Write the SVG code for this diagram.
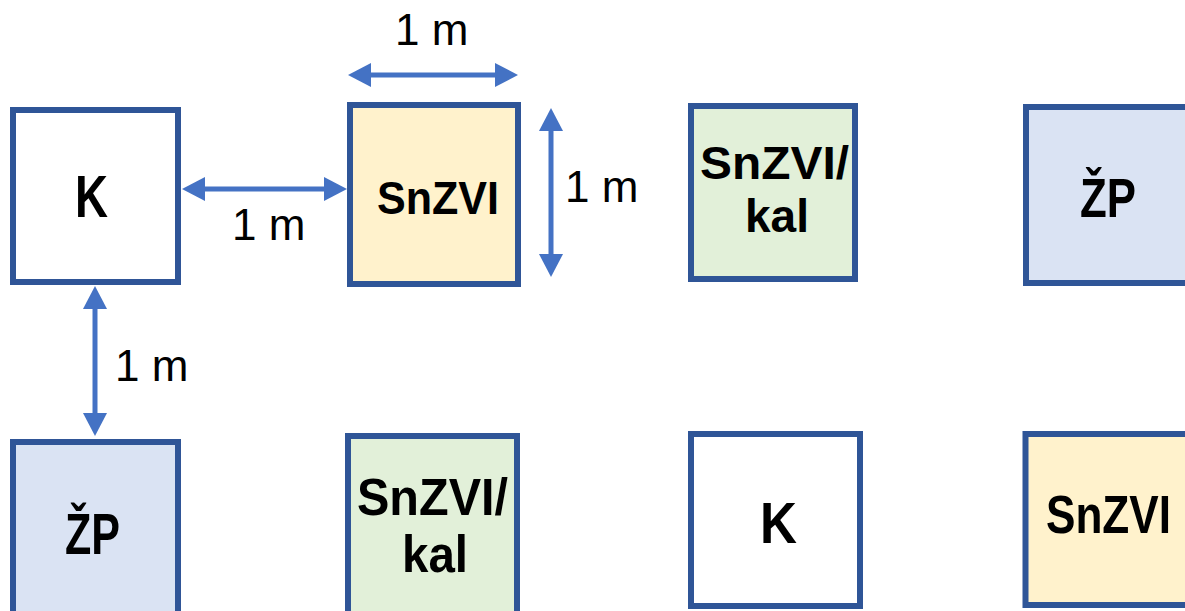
<svg xmlns="http://www.w3.org/2000/svg" width="1185" height="611" viewBox="0 0 1185 611">
<style>
.box{stroke:#2F5597;stroke-width:6}
.w{fill:#FFFFFF}
.y{fill:#FFF2CC}
.g{fill:#E2F0D9}
.b{fill:#DAE3F3}
.lbl{font-family:"Liberation Sans",Arial,sans-serif;font-weight:bold;fill:#000}
.dim{font-family:"Liberation Sans",Arial,sans-serif;font-size:44px;fill:#000}
.arr{stroke:#4472C4;stroke-width:5;fill:none;marker-start:url(#ah);marker-end:url(#ah)}
</style>
<defs>
<marker id="ah" markerUnits="userSpaceOnUse" markerWidth="24" markerHeight="24" refX="3" refY="12" orient="auto-start-reverse">
<path d="M0,0 L23,12 L0,24 Z" fill="#4472C4"/>
</marker>
</defs>
<rect width="1185" height="611" fill="#FFFFFF"/>
<g id="node-K1">
<rect class="box w" x="13" y="110" width="165" height="172"/>
<text class="lbl" x="75" y="217" font-size="60" textLength="33" lengthAdjust="spacingAndGlyphs">K</text>
</g>
<g id="node-SnZVI1">
<rect class="box y" x="350" y="105" width="168" height="179"/>
<text class="lbl" x="377" y="214" font-size="47" textLength="122" lengthAdjust="spacingAndGlyphs">SnZVI</text>
</g>
<g id="node-SnZVIkal1">
<rect class="box g" x="691" y="106" width="164" height="173"/>
<text class="lbl" x="700" y="179" font-size="47" textLength="149" lengthAdjust="spacingAndGlyphs">SnZVI/</text>
<text class="lbl" x="745" y="232" font-size="47" textLength="64" lengthAdjust="spacingAndGlyphs">kal</text>
</g>
<g id="node-ZP1">
<rect class="box b" x="1026" y="107" width="175" height="176"/>
<text class="lbl" x="1080" y="217" font-size="56" textLength="56" lengthAdjust="spacingAndGlyphs">ŽP</text>
</g>
<g id="node-ZP2">
<rect class="box b" x="13" y="442" width="165" height="190"/>
<text class="lbl" x="65" y="554" font-size="57" textLength="55" lengthAdjust="spacingAndGlyphs">ŽP</text>
</g>
<g id="node-SnZVIkal2">
<rect class="box g" x="348" y="436" width="169" height="190"/>
<text class="lbl" x="357" y="515" font-size="52" textLength="151" lengthAdjust="spacingAndGlyphs">SnZVI/</text>
<text class="lbl" x="402" y="572" font-size="52" textLength="66" lengthAdjust="spacingAndGlyphs">kal</text>
</g>
<g id="node-K2">
<rect class="box w" x="691" y="434" width="169" height="172"/>
<text class="lbl" x="760" y="543" font-size="58" textLength="37" lengthAdjust="spacingAndGlyphs">K</text>
</g>
<g id="node-SnZVI2">
<rect class="box y" x="1025.5" y="434" width="175" height="171"/>
<text class="lbl" transform="translate(1046 533) scale(1 1.1)" x="0" y="0" font-size="48" textLength="125" lengthAdjust="spacingAndGlyphs">SnZVI</text>
</g>
<g id="connectors">
<line class="arr" x1="368" y1="75" x2="498" y2="75"/>
<line class="arr" x1="202" y1="189" x2="327" y2="189"/>
<line class="arr" x1="551" y1="128" x2="551" y2="257"/>
<line class="arr" x1="95" y1="306" x2="95" y2="416"/>
</g>
<g id="dimension-labels">
<text class="dim" x="395" y="45">1 m</text>
<text class="dim" x="232" y="240">1 m</text>
<text class="dim" x="565" y="202">1 m</text>
<text class="dim" x="115" y="381">1 m</text>
</g>
</svg>
